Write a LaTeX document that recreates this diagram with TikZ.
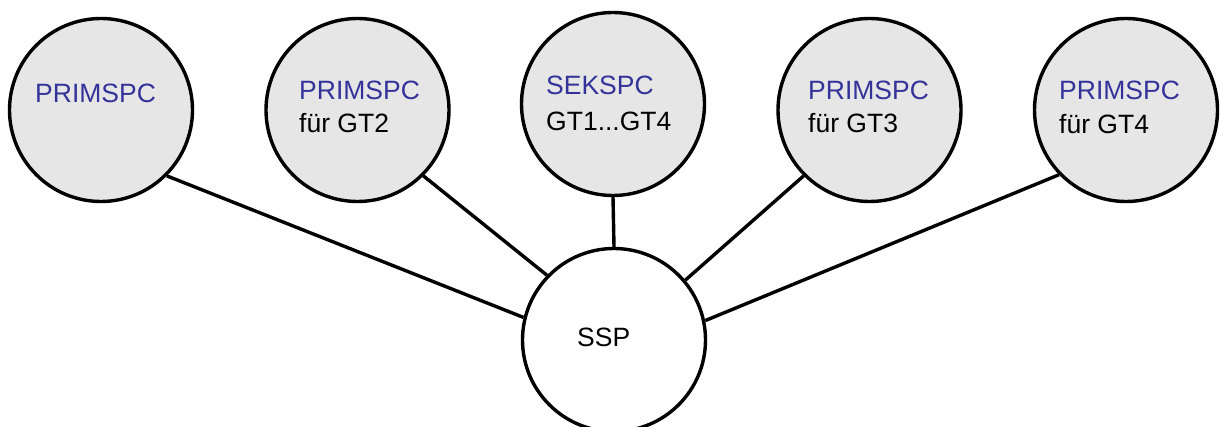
\documentclass[tikz,border=0pt]{standalone}
\usepackage{fontspec}
\setmainfont{Liberation Sans}
\definecolor{spcblue}{RGB}{51,51,153}
\definecolor{spcfill}{RGB}{230,230,230}
\tikzset{
  spc/.style={circle, draw=black, line width=3.4pt, fill=spcfill, minimum size=183pt, inner sep=0pt},
  hub/.style={circle, draw=black, line width=3.4pt, fill=white, minimum size=183pt, inner sep=0pt},
  lbl/.style={anchor=base west, inner sep=0pt, font=\fontsize{26.5}{30}\selectfont},
  link/.style={line width=3.4pt}
}
\begin{document}
\begin{tikzpicture}[x=1pt, y=-1pt]
  \useasboundingbox (0,0) rectangle (1220,427);
  % circles
  \node[spc] (c1) at (101,110) {};
  \node[spc] (c2) at (357.5,110) {};
  \node[spc] (c3) at (613,104) {};
  \node[spc] (c4) at (869.5,110) {};
  \node[spc] (c5) at (1126,110) {};
  \node[hub] (ssp) at (614,340) {};
  % connectors to the hub
  \draw[link] (c1.-45) -- (ssp.166);
  \draw[link] (c2.-45) -- (ssp.136);
  \draw[link] (c3.-90) -- (ssp.90);
  \draw[link] (c4.-135) -- (ssp.40);
  \draw[link] (c5.-136) -- (ssp.12);
  % labels
  \node[lbl, text=spcblue] (t1) at (35,103) {PRIMSPC};
  \node[lbl, text=spcblue] (t2a) at (299,100) {PRIMSPC};
  \node[lbl] (t2b) at (299,133) {für GT2};
  \node[lbl, text=spcblue] (t3a) at (546,95) {SEKSPC};
  \node[lbl] (t3b) at (546,130.5) {GT1...GT4};
  \node[lbl, text=spcblue] (t4a) at (808,100) {PRIMSPC};
  \node[lbl] (t4b) at (808,133) {für GT3};
  \node[lbl, text=spcblue] (t5a) at (1059,100) {PRIMSPC};
  \node[lbl] (t5b) at (1059,134) {für GT4};
  \node[lbl] (t6) at (577,346) {SSP};
\end{tikzpicture}
\end{document}
